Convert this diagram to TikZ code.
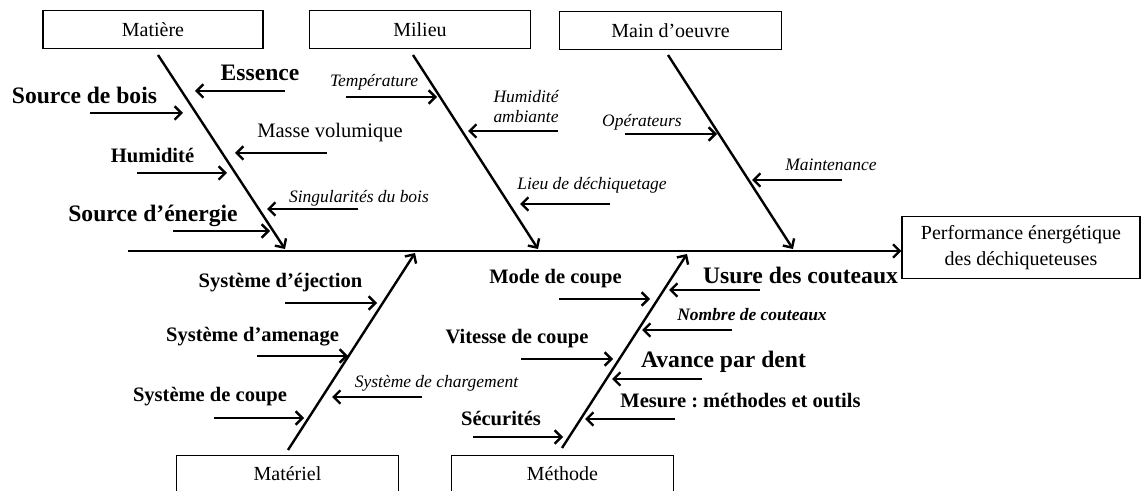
\documentclass[tikz,border=0pt]{standalone}
\usepackage{fontspec}
\setmainfont{Liberation Serif}
\frenchspacing
\usetikzlibrary{arrows.meta, calc}
\tikzset{
  catbox/.style={draw, line width=0.9pt, minimum width=166pt, minimum height=28pt, inner sep=0pt, font=\fontsize{15}{18}\selectfont},
  bone/.style={line width=1.8pt, -{Straight Barb[length=5pt, width=10pt]}},
  cause/.style={line width=1.8pt, -{Straight Barb[length=5pt, width=10pt]}},
  bigbold/.style={font=\fontsize{17.7}{20}\selectfont\bfseries, inner sep=0pt},
  medbold/.style={font=\fontsize{15.4}{18}\selectfont\bfseries, inner sep=0pt},
  medreg/.style={font=\fontsize{15.4}{18}\selectfont, inner sep=0pt},
  smallit/.style={font=\fontsize{13.1}{15}\selectfont\itshape, inner sep=0pt},
}

\begin{document}
\begin{tikzpicture}[x=0.75pt, y=-0.75pt]
\useasboundingbox (0,0) rectangle (1142,491);
\clip (0,0) rectangle (1142,491);
% category boxes
\node[catbox, minimum width=165pt] (matiere) at (153,29.5) {Matière};
\node[catbox] (milieu) at (420,29.5) {Milieu};
\node[catbox] (maindo) at (670.5,30.5) {Main d’oeuvre};
\node[catbox] (materiel) at (287.5,474) {Matériel};
\node[catbox] (methode) at (562.5,474) {Méthode};
\node[catbox, minimum width=178.5pt, minimum height=47pt, align=center, font=\fontsize{15}{19.5}\selectfont] (perf) at (1021,247.5) {Performance énergétique\\des déchiqueteuses};
% spine and bones
\coordinate (tail) at (128,251);
\coordinate (mat1) at (158,55);
\coordinate (mat2) at (285,249);
\coordinate (mil1) at (413,55);
\coordinate (mil2) at (538,249);
\coordinate (mdo1) at (668,55);
\coordinate (mdo2) at (793,249);
\coordinate (mtl1) at (288,450);
\coordinate (mtl2) at (415,253);
\coordinate (mth1) at (562,448);
\coordinate (mth2) at (687,254);
\draw[bone] (tail) -- (tail -| perf.west);
\draw[bone] (mat1) -- (mat2);
\draw[bone] (mil1) -- (mil2);
\draw[bone] (mdo1) -- (mdo2);
\draw[bone] (mtl1) -- (mtl2);
\draw[bone] (mth1) -- (mth2);
% Matiere
\node[bigbold] (essence) at (260,73) {Essence};
\node[bigbold] (sbois) at (84.5,95) {Source de bois};
\node[medreg] (masse) at (330,133) {Masse volumique};
\node[medbold] (humid) at (152.5,155) {Humidité};
\node[smallit] (singu) at (359,198) {Singularités du bois};
\node[bigbold] (senergie) at (153,216) {Source d’énergie};
\coordinate (ess-a) at (285,91);  \coordinate (ess-b) at (195,91);
\coordinate (sbo-a) at (90,113);  \coordinate (sbo-b) at (183,113);
\coordinate (mas-a) at (327,153); \coordinate (mas-b) at (235,153);
\coordinate (hum-a) at (137,173); \coordinate (hum-b) at (227,173);
\coordinate (sin-a) at (358,209); \coordinate (sin-b) at (267,209);
\coordinate (sen-a) at (173,231); \coordinate (sen-b) at (270,231);
\draw[cause] (ess-a) -- (ess-b);
\draw[cause] (sbo-a) -- (sbo-b);
\draw[cause] (mas-a) -- (mas-b);
\draw[cause] (hum-a) -- (hum-b);
\draw[cause] (sin-a) -- (sin-b);
\draw[cause] (sen-a) -- (sen-b);
% Milieu
\node[smallit] (temp) at (374,82) {Température};
\node[smallit, align=right] (humamb) at (526,107) {Humidité\\ambiante};
\node[smallit] (lieu) at (592,185) {Lieu de déchiquetage};
\coordinate (tem-a) at (346,97);  \coordinate (tem-b) at (437,97);
\coordinate (hua-a) at (558,131); \coordinate (hua-b) at (468,131);
\coordinate (lie-a) at (610,204); \coordinate (lie-b) at (520,204);
\draw[cause] (tem-a) -- (tem-b);
\draw[cause] (hua-a) -- (hua-b);
\draw[cause] (lie-a) -- (lie-b);
% Main d'oeuvre
\node[smallit] (operat) at (642,122) {Opérateurs};
\node[smallit] (mainten) at (831,165) {Maintenance};
\coordinate (ope-a) at (625,134); \coordinate (ope-b) at (717,134);
\coordinate (mai-a) at (842,180); \coordinate (mai-b) at (752,180);
\draw[cause] (ope-a) -- (ope-b);
\draw[cause] (mai-a) -- (mai-b);
% Materiel
\node[medbold] (ejec) at (280.5,283) {Système d’éjection};
\node[medbold] (amen) at (252.5,337) {Système d’amenage};
\node[smallit] (charg) at (436.5,383) {Système de chargement};
\node[medbold] (scoupe) at (210,397) {Système de coupe};
\coordinate (eje-a) at (285,303); \coordinate (eje-b) at (377,303);
\coordinate (ame-a) at (257,356); \coordinate (ame-b) at (348,356);
\coordinate (cha-a) at (422,397); \coordinate (cha-b) at (332,397);
\coordinate (sco-a) at (214,418); \coordinate (sco-b) at (304,418);
\draw[cause] (eje-a) -- (eje-b);
\draw[cause] (ame-a) -- (ame-b);
\draw[cause] (cha-a) -- (cha-b);
\draw[cause] (sco-a) -- (sco-b);
% Methode
\node[medbold] (mode) at (555.5,279) {Mode de coupe};
\node[bigbold] (usure) at (800.5,275) {Usure des couteaux};
\node[smallit, font=\fontsize{13.1}{15}\selectfont\bfseries\itshape] (nombre) at (752,315) {Nombre de couteaux};
\node[medbold] (vitesse) at (517,339) {Vitesse de coupe};
\node[bigbold] (avance) at (723.5,362) {Avance par dent};
\node[medbold] (mesure) at (740.5,401) {Mesure : méthodes et outils};
\node[medbold] (secu) at (501,418) {Sécurités};
\coordinate (mod-a) at (559,299); \coordinate (mod-b) at (650,299);
\coordinate (usu-a) at (760,290); \coordinate (usu-b) at (669,290);
\coordinate (nom-a) at (732,330); \coordinate (nom-b) at (642,330);
\coordinate (vit-a) at (521,359); \coordinate (vit-b) at (613,359);
\coordinate (ava-a) at (702,379); \coordinate (ava-b) at (612,379);
\coordinate (mes-a) at (675,419); \coordinate (mes-b) at (585,419);
\coordinate (sec-a) at (473,437); \coordinate (sec-b) at (563,437);
\draw[cause] (mod-a) -- (mod-b);
\draw[cause] (usu-a) -- (usu-b);
\draw[cause] (nom-a) -- (nom-b);
\draw[cause] (vit-a) -- (vit-b);
\draw[cause] (ava-a) -- (ava-b);
\draw[cause] (mes-a) -- (mes-b);
\draw[cause] (sec-a) -- (sec-b);
\end{tikzpicture}
\end{document}
